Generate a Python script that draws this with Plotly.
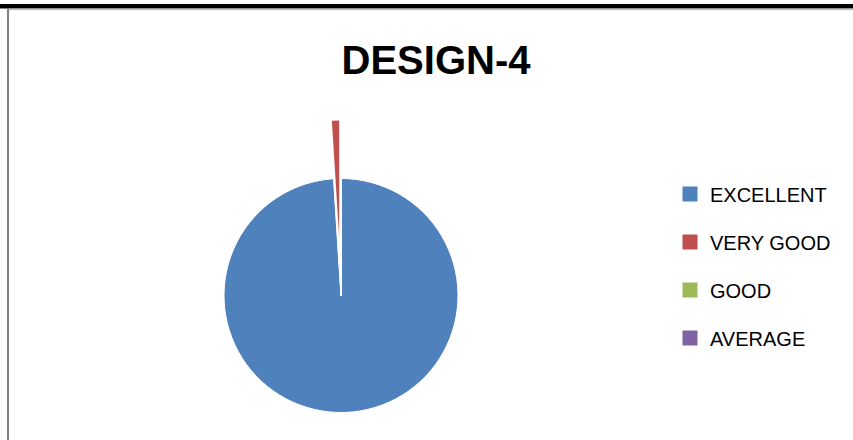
import plotly.graph_objects as go

categories = ["EXCELLENT", "VERY GOOD", "GOOD", "AVERAGE"]
values = [99, 1, 0, 0]
colors = ["#4F81BD", "#C0504D", "#9BBB59", "#8064A2"]
exploded = "VERY GOOD"
title_text = "DESIGN-4"

W, H = 853, 440
cx, cy, r = 341, 295.5, 117      # pie centre / radius in pixels (from top-left)
pull_dx, pull_dy = -1.8, -58     # explosion offset of the pulled slice in pixels


def dom(cxp, cyp):
    return dict(x=[(cxp - r) / W, (cxp + r) / W],
                y=[(H - cyp - r) / H, (H - cyp + r) / H])


fig = go.Figure()

# main pie, with the exploded slice left empty
main_colors = [c if lab != exploded else "rgba(0,0,0,0)" for lab, c in zip(categories, colors)]
fig.add_trace(go.Pie(
    labels=categories, values=values, sort=False, direction="clockwise", rotation=0,
    marker=dict(colors=main_colors, line=dict(color="white", width=1)),
    textinfo="none", hoverinfo="label+value", showlegend=False,
    domain=dom(cx, cy),
))

# exploded slice drawn at its pulled position
pulled_colors = [c if lab == exploded else "rgba(0,0,0,0)" for lab, c in zip(categories, colors)]
fig.add_trace(go.Pie(
    labels=categories, values=values, sort=False, direction="clockwise", rotation=0,
    marker=dict(colors=pulled_colors, line=dict(width=0)),
    textinfo="none", hoverinfo="label+value", showlegend=False,
    domain=dom(cx + pull_dx, cy + pull_dy),
))

# legend entries
for lab, c in zip(categories, colors):
    fig.add_trace(go.Scatter(
        x=[None], y=[None], mode="markers", name=lab, legendgroup=lab,
        marker=dict(symbol="square", size=15, color=c),
    ))

shapes = [
    dict(type="rect", xref="paper", yref="paper", x0=0, x1=1,
         y0=1 - 8.5 / H, y1=1 - 4 / H, fillcolor="black", line=dict(width=0), layer="above"),
    dict(type="line", xref="paper", yref="paper", x0=9 / W, x1=1,
         y0=1 - 9.5 / H, y1=1 - 9.5 / H, line=dict(color="#c4c4c4", width=1.5)),
    dict(type="line", xref="paper", yref="paper", x0=8 / W, x1=8 / W,
         y0=0, y1=1 - 8 / H, line=dict(color="#808080", width=2)),
]

fig.update_layout(
    width=W, height=H,
    margin=dict(l=0, r=0, t=0, b=0),
    paper_bgcolor="white", plot_bgcolor="white",
    title=dict(text="<b>" + title_text + "</b>", x=436 / W, xanchor="center",
               y=1 - 60 / H, yanchor="middle",
               font=dict(family="Liberation Sans, Arial, sans-serif", size=40, color="black")),
    xaxis=dict(visible=False), yaxis=dict(visible=False),
    legend=dict(x=670 / W, xanchor="left", y=1 - 266 / H, yanchor="middle",
                font=dict(family="Liberation Sans, Arial, sans-serif", size=20, color="black"),
                tracegroupgap=19, bgcolor="rgba(0,0,0,0)", itemclick=False),
    shapes=shapes,
    showlegend=True,
)

fig.write_html("out.html", config={"displayModeBar": False},
               post_script="document.body.style.margin='0';document.body.style.overflow='hidden';")
